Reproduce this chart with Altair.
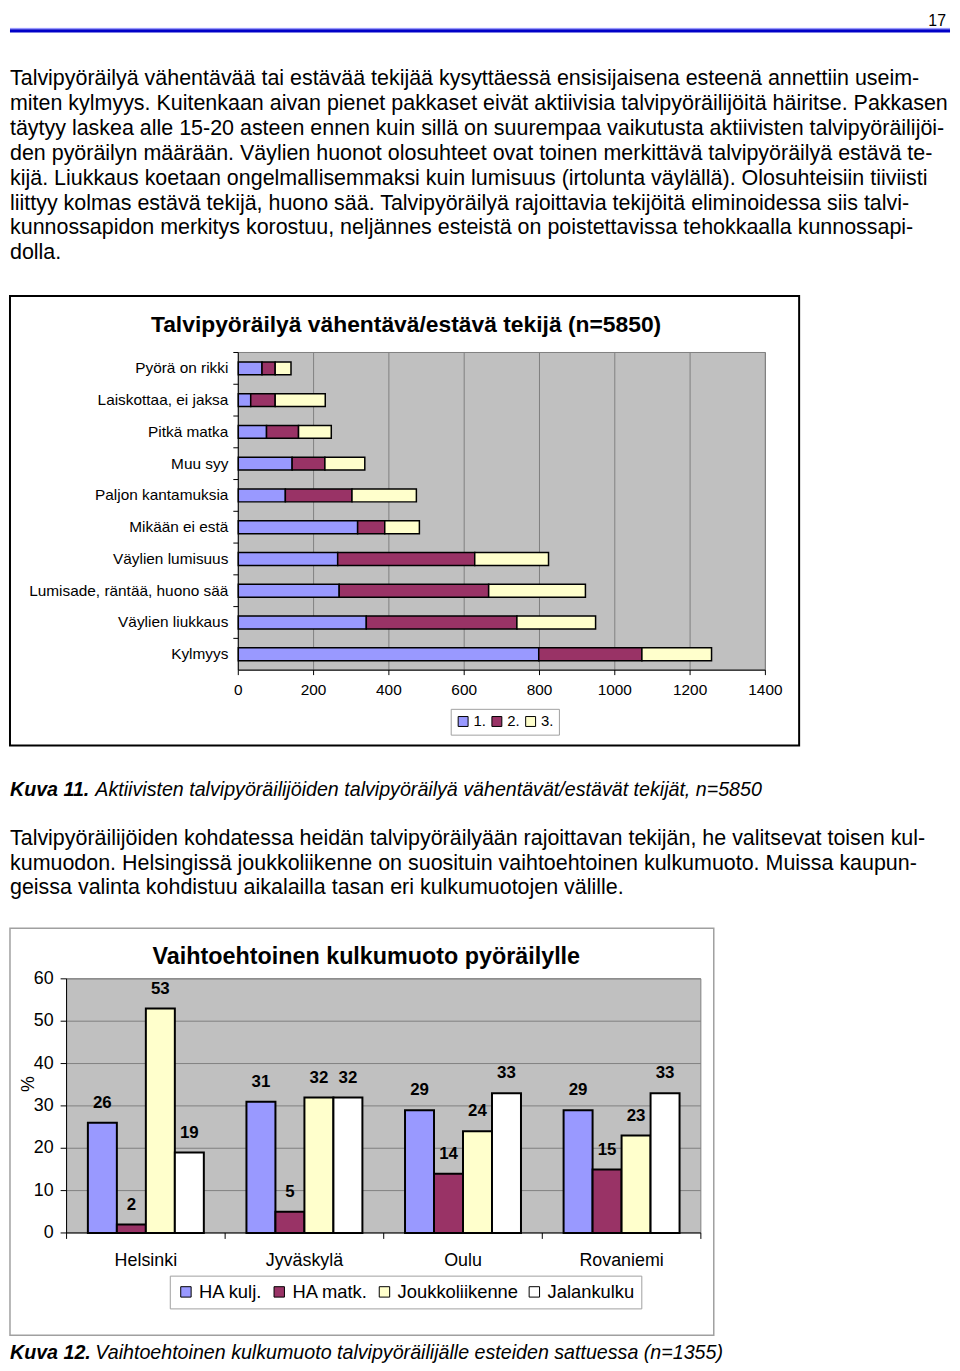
import altair as alt
import pandas as pd

FONT = "Liberation Sans"

# ---------------- text content ----------------
page_number = "17"
para1 = [
    "Talvipyöräilyä vähentävää tai estävää tekijää kysyttäessä ensisijaisena esteenä annettiin useim-",
    "miten kylmyys. Kuitenkaan aivan pienet pakkaset eivät aktiivisia talvipyöräilijöitä häiritse. Pakkasen",
    "täytyy laskea alle 15-20 asteen ennen kuin sillä on suurempaa vaikutusta aktiivisten talvipyöräilijöi-",
    "den pyöräilyn määrään. Väylien huonot olosuhteet ovat toinen merkittävä talvipyöräilyä estävä te-",
    "kijä. Liukkaus koetaan ongelmallisemmaksi kuin lumisuus (irtolunta väylällä). Olosuhteisiin tiiviisti",
    "liittyy kolmas estävä tekijä, huono sää. Talvipyöräilyä rajoittavia tekijöitä eliminoidessa siis talvi-",
    "kunnossapidon merkitys korostuu, neljännes esteistä on poistettavissa tehokkaalla kunnossapi-",
    "dolla.",
]
para2 = [
    "Talvipyöräilijöiden kohdatessa heidän talvipyöräilyään rajoittavan tekijän, he valitsevat toisen kul-",
    "kumuodon. Helsingissä joukkoliikenne on suosituin vaihtoehtoinen kulkumuoto. Muissa kaupun-",
    "geissa valinta kohdistuu aikalailla tasan eri kulkumuotojen välille.",
]
caption11_bold = "Kuva 11."
caption11_text = "Aktiivisten talvipyöräilijöiden talvipyöräilyä vähentävät/estävät tekijät, n=5850"
caption12_bold = "Kuva 12."
caption12_text = "Vaihtoehtoinen kulkumuoto talvipyöräilijälle esteiden sattuessa (n=1355)"

# ---------------- chart 1 data ----------------
chart1_title = "Talvipyöräilyä vähentävä/estävä tekijä (n=5850)"
factors = [
    "Pyörä on rikki",
    "Laiskottaa, ei jaksa",
    "Pitkä matka",
    "Muu syy",
    "Paljon kantamuksia",
    "Mikään ei estä",
    "Väylien lumisuus",
    "Lumisade, räntää, huono sää",
    "Väylien liukkaus",
    "Kylmyys",
]
rank_labels = ["1.", "2.", "3."]
rank_colors = ["#9999FF", "#993366", "#FFFFCC"]
rank1 = [63, 33, 75, 143, 125, 317, 264, 268, 340, 798]
rank2 = [35, 65, 85, 87, 177, 72, 364, 397, 400, 274]
rank3 = [42, 133, 87, 106, 171, 92, 196, 257, 209, 185]
x_ticks1 = [0, 200, 400, 600, 800, 1000, 1200, 1400]

# ---------------- chart 2 data ----------------
chart2_title = "Vaihtoehtoinen kulkumuoto pyöräilylle"
cities = ["Helsinki", "Jyväskylä", "Oulu", "Rovaniemi"]
modes = ["HA kulj.", "HA matk.", "Joukkoliikenne", "Jalankulku"]
mode_colors = ["#9999FF", "#993366", "#FFFFCC", "#FFFFFF"]
ha_kulj = [26, 31, 29, 29]
ha_matk = [2, 5, 14, 15]
joukko = [53, 32, 24, 23]
jalan = [19, 32, 33, 33]
y_ticks2 = [0, 10, 20, 30, 40, 50, 60]
y_title2 = "%"

one = pd.DataFrame({"k": [0]})
PARA_FS = 21.6
CAP_FS = 19.8

# ================= Block A: header + paragraph 1 =================
hdr = pd.DataFrame({"t": [page_number]})
num = alt.Chart(hdr).mark_text(font=FONT, fontSize=16, align="right", baseline="top").encode(
    x=alt.value(943), y=alt.value(0), text="t:N")
rule_light = alt.Chart(one).mark_rule(color="#8c8cff", strokeWidth=1).encode(
    x=alt.value(0), x2=alt.value(947), y=alt.value(15.5))
rule_dark = alt.Chart(one).mark_rule(color="#0000c8", strokeWidth=3.5).encode(
    x=alt.value(0), x2=alt.value(947), y=alt.value(18))
p1 = pd.DataFrame({"line": list(range(len(para1))), "text": para1})
p1_marks = alt.Chart(p1).mark_text(font=FONT, fontSize=PARA_FS, align="left", baseline="middle").encode(
    x=alt.value(0),
    y=alt.Y("line:Q", scale=alt.Scale(domain=[0, 7], range=[67, 242], nice=False, zero=False), axis=None),
    text="text:N")
blockA = alt.layer(rule_light, rule_dark, num, p1_marks).properties(width=947, height=284)

# ================= Block B: chart 1 =================
rows = []
for i, f in enumerate(factors):
    for j, vals in enumerate([rank1, rank2, rank3]):
        rows.append({"factor": f, "rank": rank_labels[j], "rank_i": j, "value": vals[i]})
df1 = pd.DataFrame(rows)
fac_df = pd.DataFrame({"factor": factors})
tick_df1 = pd.DataFrame({"tick": x_ticks1, "lbl": [str(t) for t in x_ticks1]})

xs1 = alt.Scale(domain=[0, 1400], range=[230, 761], nice=False, zero=False)
ys1 = alt.Scale(domain=factors, range=[57, 377], paddingInner=0, paddingOuter=0)

bg1 = alt.Chart(pd.DataFrame({"a": [0], "b": [1400]})).mark_rect(
    fill="#c0c0c0", stroke="#808080", strokeWidth=1).encode(
    x=alt.X("a:Q", scale=xs1, axis=None), x2="b:Q", y=alt.value(57), y2=alt.value(377))
grid1 = alt.Chart(tick_df1[tick_df1.tick > 0]).mark_rule(color="#808080", strokeWidth=1).encode(
    x=alt.X("tick:Q", scale=xs1, axis=None), y=alt.value(57), y2=alt.value(377))
bars1 = alt.Chart(df1).mark_bar(size=13, stroke="black", strokeWidth=1.5).encode(
    x=alt.X("value:Q", stack="zero", scale=xs1, axis=None),
    y=alt.Y("factor:N", scale=ys1, axis=None, sort=factors),
    color=alt.Color("rank:N", scale=alt.Scale(domain=rank_labels, range=rank_colors),
                    legend=alt.Legend(orient="none", legendX=444, legendY=416, direction="horizontal",
                                      title=None, fillColor="white", strokeColor="#a0a0a0", padding=5,
                                      symbolType="square", symbolSize=100, symbolStrokeColor="black",
                                      symbolStrokeWidth=1, labelFont=FONT, labelFontSize=15,
                                      columnPadding=3, labelOffset=3)),
    order=alt.Order("rank_i:Q", sort="ascending"))
yaxis1 = alt.Chart(tick_df1.head(1)).mark_rule(color="black", strokeWidth=1).encode(
    x=alt.X("tick:Q", scale=xs1, axis=None), y=alt.value(57), y2=alt.value(377))
xaxis1 = alt.Chart(pd.DataFrame({"a": [0], "b": [1400]})).mark_rule(color="black", strokeWidth=1).encode(
    x=alt.X("a:Q", scale=xs1, axis=None), x2="b:Q", y=alt.value(377))
xticks1 = alt.Chart(tick_df1).mark_rule(color="black", strokeWidth=1).encode(
    x=alt.X("tick:Q", scale=xs1, axis=None), y=alt.value(377), y2=alt.value(382))
yticks1 = alt.Chart(fac_df).mark_rule(color="black", strokeWidth=1).encode(
    y=alt.Y("factor:N", scale=ys1, axis=None, bandPosition=0), x=alt.value(225), x2=alt.value(230))
ylab1 = alt.Chart(fac_df).mark_text(font=FONT, fontSize=15.5, align="right", baseline="middle").encode(
    x=alt.value(220), y=alt.Y("factor:N", scale=ys1, axis=None), text="factor:N")
xlab1 = alt.Chart(tick_df1).mark_text(font=FONT, fontSize=15.5, align="center", baseline="middle").encode(
    x=alt.X("tick:Q", scale=xs1, axis=None), y=alt.value(397), text="lbl:N")
title1 = alt.Chart(pd.DataFrame({"t": [chart1_title]})).mark_text(
    font=FONT, fontSize=23, fontWeight="bold", align="center", baseline="middle").encode(
    x=alt.value(399), y=alt.value(29), text="t:N")
blockB = alt.layer(bg1, grid1, yaxis1, xaxis1, xticks1, yticks1, bars1, ylab1, xlab1, title1).properties(
    width=795, height=453, view=alt.ViewBackground(stroke="black", strokeWidth=2))

# ================= Block C: caption 11 + paragraph 2 =================
capC1 = alt.Chart(pd.DataFrame({"t": [caption11_bold]})).mark_text(
    font=FONT, fontSize=CAP_FS, fontWeight="bold", fontStyle="italic", align="left", baseline="middle").encode(
    x=alt.value(0), y=alt.value(44), text="t:N")
capC2 = alt.Chart(pd.DataFrame({"t": [caption11_text]})).mark_text(
    font=FONT, fontSize=CAP_FS, fontStyle="italic", align="left", baseline="middle").encode(
    x=alt.value(86), y=alt.value(44), text="t:N")
p2 = pd.DataFrame({"line": list(range(len(para2))), "text": para2})
p2_marks = alt.Chart(p2).mark_text(font=FONT, fontSize=PARA_FS, align="left", baseline="middle").encode(
    x=alt.value(0),
    y=alt.Y("line:Q", scale=alt.Scale(domain=[0, 2], range=[93, 143], nice=False, zero=False), axis=None),
    text="text:N")
blockC = alt.layer(capC1, capC2, p2_marks).properties(width=947, height=182)

# ================= Block D: chart 2 =================
rows2 = []
for i, c in enumerate(cities):
    for j, vals in enumerate([ha_kulj, ha_matk, joukko, jalan]):
        rows2.append({"city": c, "mode": modes[j], "value": vals[i]})
df2 = pd.DataFrame(rows2)
city_df = pd.DataFrame({"city": cities})
tick_df2 = pd.DataFrame({"tick": y_ticks2, "lbl": [str(t) for t in y_ticks2]})

xs2 = alt.Scale(domain=cities, range=[57, 696], paddingInner=0, paddingOuter=0)
xo2 = alt.Scale(domain=modes, paddingInner=0, paddingOuter=0.735)
ys2 = alt.Scale(domain=[0, 60], range=[307, 51], nice=False, zero=False)

bg2 = alt.Chart(pd.DataFrame({"lo": [0], "hi": [60]})).mark_rect(
    fill="#c0c0c0", stroke="#808080", strokeWidth=1).encode(
    y=alt.Y("lo:Q", scale=ys2, axis=None), y2="hi:Q", x=alt.value(57), x2=alt.value(696))
grid2 = alt.Chart(tick_df2[tick_df2.tick > 0]).mark_rule(color="#808080", strokeWidth=1).encode(
    y=alt.Y("tick:Q", scale=ys2, axis=None), x=alt.value(57), x2=alt.value(696))
yaxis2 = alt.Chart(pd.DataFrame({"lo": [0], "hi": [60]})).mark_rule(color="black", strokeWidth=1).encode(
    x=alt.value(57), y=alt.Y("lo:Q", scale=ys2, axis=None), y2="hi:Q")
yticks2 = alt.Chart(tick_df2).mark_rule(color="black", strokeWidth=1).encode(
    y=alt.Y("tick:Q", scale=ys2, axis=None), x=alt.value(51), x2=alt.value(57))
xaxis2 = alt.Chart(tick_df2.head(1)).mark_rule(color="black", strokeWidth=1).encode(
    y=alt.Y("tick:Q", scale=ys2, axis=None), x=alt.value(57), x2=alt.value(696))
xticks2a = alt.Chart(city_df).mark_rule(color="black", strokeWidth=1).encode(
    x=alt.X("city:N", scale=xs2, axis=None, bandPosition=0), y=alt.value(307), y2=alt.value(313))
xticks2b = alt.Chart(city_df.tail(1)).mark_rule(color="black", strokeWidth=1).encode(
    x=alt.X("city:N", scale=xs2, axis=None, bandPosition=1), y=alt.value(307), y2=alt.value(313))
bars2 = alt.Chart(df2).mark_bar(stroke="black", strokeWidth=2).encode(
    x=alt.X("city:N", scale=xs2, axis=None, sort=cities),
    xOffset=alt.XOffset("mode:N", scale=xo2, sort=modes),
    y=alt.Y("value:Q", scale=ys2, axis=None),
    color=alt.Color("mode:N", scale=alt.Scale(domain=modes, range=mode_colors),
                    legend=alt.Legend(orient="none", legendX=161, legendY=350, direction="horizontal",
                                      title=None, fillColor="white", strokeColor="#a0a0a0", padding=7,
                                      symbolType="square", symbolSize=110, symbolStrokeColor="black",
                                      symbolStrokeWidth=1, labelFont=FONT, labelFontSize=18.5,
                                      columnPadding=7, labelOffset=4, labelLimit=300)))
vlab2 = alt.Chart(df2).mark_text(font=FONT, fontSize=17, fontWeight="bold", dy=-20,
                                 align="center", baseline="middle").encode(
    x=alt.X("city:N", scale=xs2, axis=None, sort=cities),
    xOffset=alt.XOffset("mode:N", scale=xo2, sort=modes),
    y=alt.Y("value:Q", scale=ys2, axis=None),
    text="value:Q")
ylab2 = alt.Chart(tick_df2).mark_text(font=FONT, fontSize=18, align="right", baseline="middle").encode(
    y=alt.Y("tick:Q", scale=ys2, axis=None), x=alt.value(44), text="lbl:N")
ytitle2 = alt.Chart(pd.DataFrame({"t": [y_title2]})).mark_text(
    font=FONT, fontSize=18, angle=270, align="center", baseline="middle").encode(
    x=alt.value(19), y=alt.value(157), text="t:N")
xlab2 = alt.Chart(city_df).mark_text(font=FONT, fontSize=18, align="center", baseline="middle").encode(
    x=alt.X("city:N", scale=xs2, axis=None), y=alt.value(335), text="city:N")
title2 = alt.Chart(pd.DataFrame({"t": [chart2_title]})).mark_text(
    font=FONT, fontSize=23.5, fontWeight="bold", align="center", baseline="middle").encode(
    x=alt.value(359), y=alt.value(29), text="t:N")
blockD = alt.layer(bg2, grid2, yaxis2, yticks2, xaxis2, xticks2a, xticks2b, bars2, vlab2,
                   ylab2, ytitle2, xlab2, title2).properties(
    width=709, height=410, view=alt.ViewBackground(stroke="#a0a0a0", strokeWidth=1.5))

# ================= Block E: caption 12 =================
capE1 = alt.Chart(pd.DataFrame({"t": [caption12_bold]})).mark_text(
    font=FONT, fontSize=CAP_FS, fontWeight="bold", fontStyle="italic", align="left", baseline="middle").encode(
    x=alt.value(0), y=alt.value(17), text="t:N")
capE2 = alt.Chart(pd.DataFrame({"t": [caption12_text]})).mark_text(
    font=FONT, fontSize=CAP_FS, fontStyle="italic", align="left", baseline="middle").encode(
    x=alt.value(86), y=alt.value(17), text="t:N")
blockE = alt.layer(capE1, capE2).properties(width=947, height=27)

chart = alt.vconcat(blockA, blockB, blockC, blockD, blockE, spacing=0).resolve_scale(
    color="independent"
).resolve_legend(color="independent").properties(padding=0).configure(font=FONT).configure_view(stroke=None)

chart.save("out.html", embed_options={"renderer": "svg", "actions": False})
